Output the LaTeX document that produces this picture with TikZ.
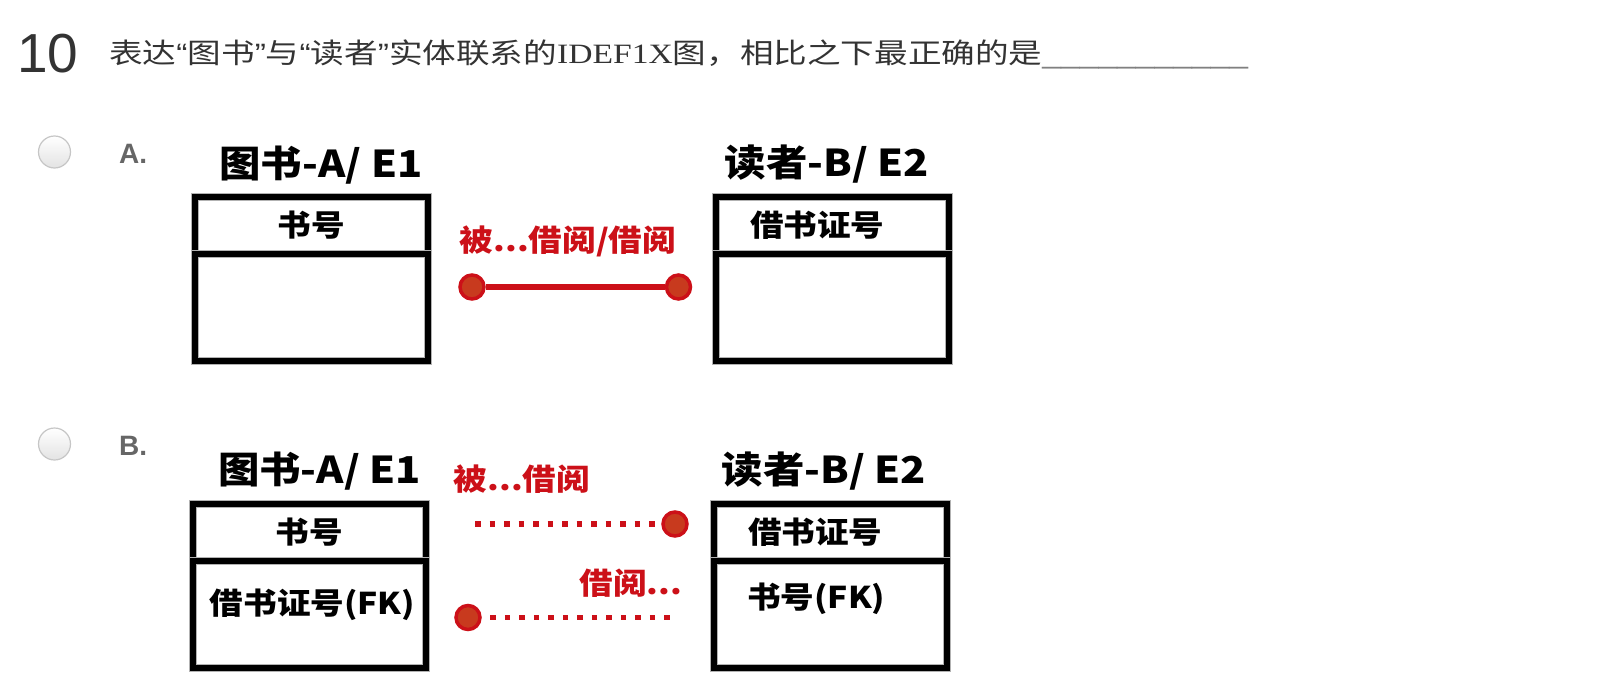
\documentclass[tikz,border=0pt]{standalone}
\usepackage{fontspec}
\setmainfont{Liberation Sans}
\newfontfamily\cjk{Noto Sans CJK SC}[FakeStretch=1.12]
\newfontfamily\qfont{Noto Sans CJK SC}[FakeStretch=1.2]
\newfontfamily\qserif{Liberation Serif}[FakeStretch=1.2]
\newfontfamily\qsans{Liberation Sans}[FakeStretch=1.2]
\newcommand\qol{{\qsans “}}
\newcommand\qcl{{\qsans ”}}
\usepackage{tikz}
\usetikzlibrary{positioning}

\definecolor{relred}{RGB}{204,16,24}
\definecolor{pincore}{RGB}{200,58,30}
\definecolor{qgray}{RGB}{51,51,51}
\definecolor{optgray}{RGB}{102,102,102}

\begin{document}
\begin{tikzpicture}[
        x=1pt, y=-1pt,
        radio/.style={circle, draw=gray!45, line width=1.2pt, top color=white, bottom color=gray!22, minimum size=32pt, inner sep=0pt},
        optlabel/.style={anchor=base west, inner sep=0pt, text=optgray, font=\fontsize{28}{28}\selectfont\bfseries},
        title/.style={anchor=base, inner sep=0pt, font=\cjk\fontsize{37}{37}\selectfont\bfseries},
        keybox/.style={draw, line width=6pt, preaction={draw=gray!60, line width=8pt}, outer sep=0pt, minimum width=233pt, minimum height=57pt, inner sep=0pt, font=\cjk\fontsize{30}{30}\selectfont\bfseries},
        keyleft/.style={text width=165pt, align=left},
        attrbox/.style={keybox, minimum height=107pt},
        attr/.style={inner sep=0pt, font=\cjk\fontsize{30}{30}\selectfont\bfseries},
        rel/.style={inner sep=0pt, text=relred, font=\cjk\fontsize{30}{30}\selectfont\bfseries},
        pin/.style={circle, fill=pincore, draw=relred, line width=3.5pt, minimum size=24pt, inner sep=0pt},
        solidrel/.style={relred, line width=6pt},
        dotrel/.style={relred, line width=5.5pt, dash pattern=on 5.5pt off 9pt}
    ]
    \useasboundingbox (0,0) rectangle (1620,696);

    % Question
    \node[anchor=base west, inner sep=0pt, text=qgray, font=\fontsize{55}{55}\selectfont] (qnum) at (17,72) {10};
    \node[anchor=base west, inner sep=0pt, text=qgray, font=\qfont\fontsize{28}{28}\selectfont] (qtext) at (109,63)
        {表达\qol 图书\qcl 与\qol 读者\qcl 实体联系的{\qserif IDEF1X}图，相比之下最正确的是{\qsans\color{gray}\_\_\_\_\_\_\_\_\_\_\_}};

    % Option A
    \node[radio] (radioA) at (54.5,152) {};
    \node[optlabel] (optA) at (119,163) {A.};
    \node[keybox] (bookAkey) at (311,225) {书号};
    \node[attrbox, below=0pt of bookAkey] (bookAattr) {};
    \node[title] (bookAtitle) at (321,177) {图书-A/ E1};
    \node[keybox, keyleft] (readerAkey) at (832.5,225) {借书证号};
    \node[attrbox, below=0pt of readerAkey] (readerAattr) {};
    \node[title] (readerAtitle) at (827,176) {读者-B/ E2};

    \node[pin] (relAl) at (472,287) {};
    \node[pin] (relAr) at (678.5,287) {};
    \draw[solidrel] (relAl) -- (relAr);
    \node[rel] (relAlabel) at (568,241) {被...借阅/借阅};

    % Option B
    \node[radio] (radioB) at (54.5,444) {};
    \node[optlabel] (optB) at (119,455) {B.};
    \node[keybox] (bookBkey) at (309,532.5) {书号};
    \node[attrbox, below=0pt of bookBkey] (bookBattr) {};
    \node[title] (bookBtitle) at (319.5,483) {图书-A/ E1};
    \node[attr] (bookBfk) at (312.5,605) {借书证号(FK)};
    \node[keybox, keyleft] (readerBkey) at (830.5,532.5) {借书证号};
    \node[attrbox, below=0pt of readerBkey] (readerBattr) {};
    \node[title] (readerBtitle) at (824,483) {读者-B/ E2};
    \node[attr, anchor=west] (readerBfk) at (747,599) {书号(FK)};

    \node[pin] (relBu) at (675,524) {};
    \coordinate (relBustart) at (475,524);
    \draw[dotrel] (relBustart) -- (relBu);
    \node[rel] (relBulabel) at (522,479) {被...借阅};

    \node[pin] (relBl) at (468,617.5) {};
    \coordinate (relBlend) at (672,617.5);
    \draw[dotrel, dash phase=6pt] (relBl) -- (relBlend);
    \node[rel] (relBllabel) at (631,583) {借阅...};
\end{tikzpicture}
\end{document}
